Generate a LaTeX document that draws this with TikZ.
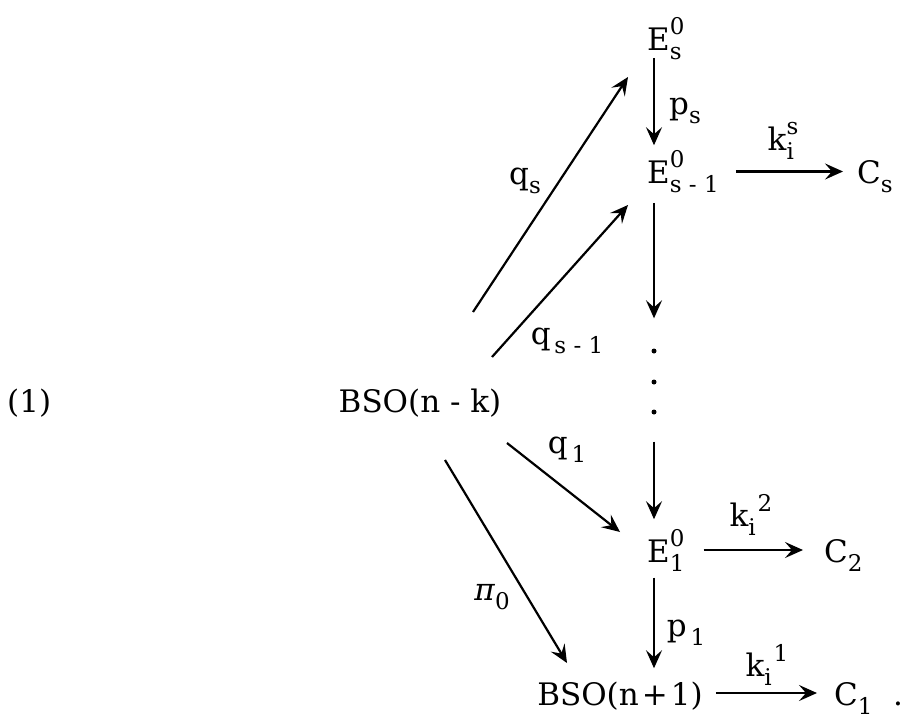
\documentclass[tikz,border=0pt]{standalone}
\usepackage{fontspec}
\setmainfont{DejaVu Serif}
\usetikzlibrary{arrows.meta}
\newcommand{\scr}[1]{{\fontsize{23}{23}\selectfont #1}}
\newcommand{\supsub}[4][0em]{#2\setbox0\hbox{\hskip#1\raisebox{0.5em}{\scr{#3}}}\setbox2\hbox{\raisebox{-0.3em}{\scr{#4}}}\ifdim\wd0>\wd2 \rlap{\box2}\box0\else\rlap{\box0}\box2\fi}
\newcommand{\subs}[2]{#1\raisebox{-0.3em}{\scr{#2}}}
\begin{document}
\begin{tikzpicture}[x=1pt,y=-1pt,
  every node/.style={inner sep=0pt,font=\fontsize{31}{37}\selectfont},
  arr/.style={-{Stealth[length=18pt,width=16pt,inset=7pt]},line width=2.2pt},
  dotmark/.style={circle,fill,inner sep=0pt,minimum size=5pt}]
\useasboundingbox (0,0) rectangle (909,720);
\coordinate (col) at (654,0);
% objects
\node[anchor=base west] (eqn) at (7,412) {(1)};
\node[anchor=base] (Bk) at (420,412) {BSO(n - k)};
\node[anchor=base west] (Es) at (647,50) {\supsub{E}{0}{s}};
\node[anchor=base west] (Es1) at (647,183) {\supsub{E}{0}{s - 1}};
\node[anchor=base west] (Cs) at (857,183) {\subs{C}{s}};
\node[dotmark] (d1) at (654,351) {};
\node[dotmark] (d2) at (654,382) {};
\node[dotmark] (d3) at (654,412) {};
\node[anchor=base west] (E1) at (647,562) {\supsub{E}{0}{1}};
\node[anchor=base west] (C2) at (824,562) {\subs{C}{2}};
\node[anchor=base west] (C1) at (834,705) {\subs{C}{1}};
\node[anchor=base] (Bn1) at (620,705) {BSO(n\kern.1em+\kern.1em1)};
\node[anchor=base] (stop) at (898,705) {.};
% labels
\node (lqs) at (525,181) {\subs{q}{s}};
\node (lqs1) at (567,341) {\subs{q}{\,s - 1}};
\node (lq1) at (567,450) {\subs{q}{\,1}};
\node (lpi) at (492,597) {\subs{\textit{π}}{0}};
\node (lps) at (685,111) {\subs{p}{s}};
\node (lp1) at (686,633) {\subs{p}{\,1}};
\node (lks) at (783,141) {\supsub{k}{s}{i}};
\node (lk2) at (751,515) {\supsub[0.3em]{k}{2}{i}};
\node (lk1) at (767,665) {\supsub[0.3em]{k}{1}{i}};
% vertical arrows
\draw[arr,shorten <=-2pt,shorten >=5pt] (Es.south -| col) -- (Es1.north -| col);
\draw[arr,shorten <=10pt,shorten >=30pt] (Es1.south -| col) -- (d1);
\draw[arr,shorten <=27pt,shorten >=10pt] (d3) -- (E1.north -| col);
\draw[arr,shorten <=6pt,shorten >=13pt] (E1.south -| col) -- (Bn1.north -| col);
% horizontal arrows
\draw[arr] ([yshift=11.5pt,xshift=17pt]Es1.base east) -- ([yshift=11.5pt,xshift=-14pt]Cs.base west);
\draw[arr] ([yshift=12pt,xshift=19pt]E1.base east) -- ([yshift=12pt,xshift=-21pt]C2.base west);
\draw[arr] ([yshift=12pt,xshift=13pt]Bn1.base east) -- ([yshift=12pt,xshift=-17pt]C1.base west);
% diagonal arrows from BSO(n-k)
\draw[arr] ([xshift=53pt,yshift=100pt]Bk.base) -- ([xshift=-19pt,yshift=-27pt]Es.base west);
\draw[arr] ([xshift=72pt,yshift=55pt]Bk.base) -- ([xshift=-19pt,yshift=-22pt]Es1.base west);
\draw[arr] ([xshift=87pt,yshift=-31pt]Bk.base) -- ([xshift=-27pt,yshift=30pt]E1.base west);
\draw[arr] ([xshift=25pt,yshift=-48pt]Bk.base) -- ([xshift=-53pt,yshift=42pt]Bn1.base);
\end{tikzpicture}
\end{document}
